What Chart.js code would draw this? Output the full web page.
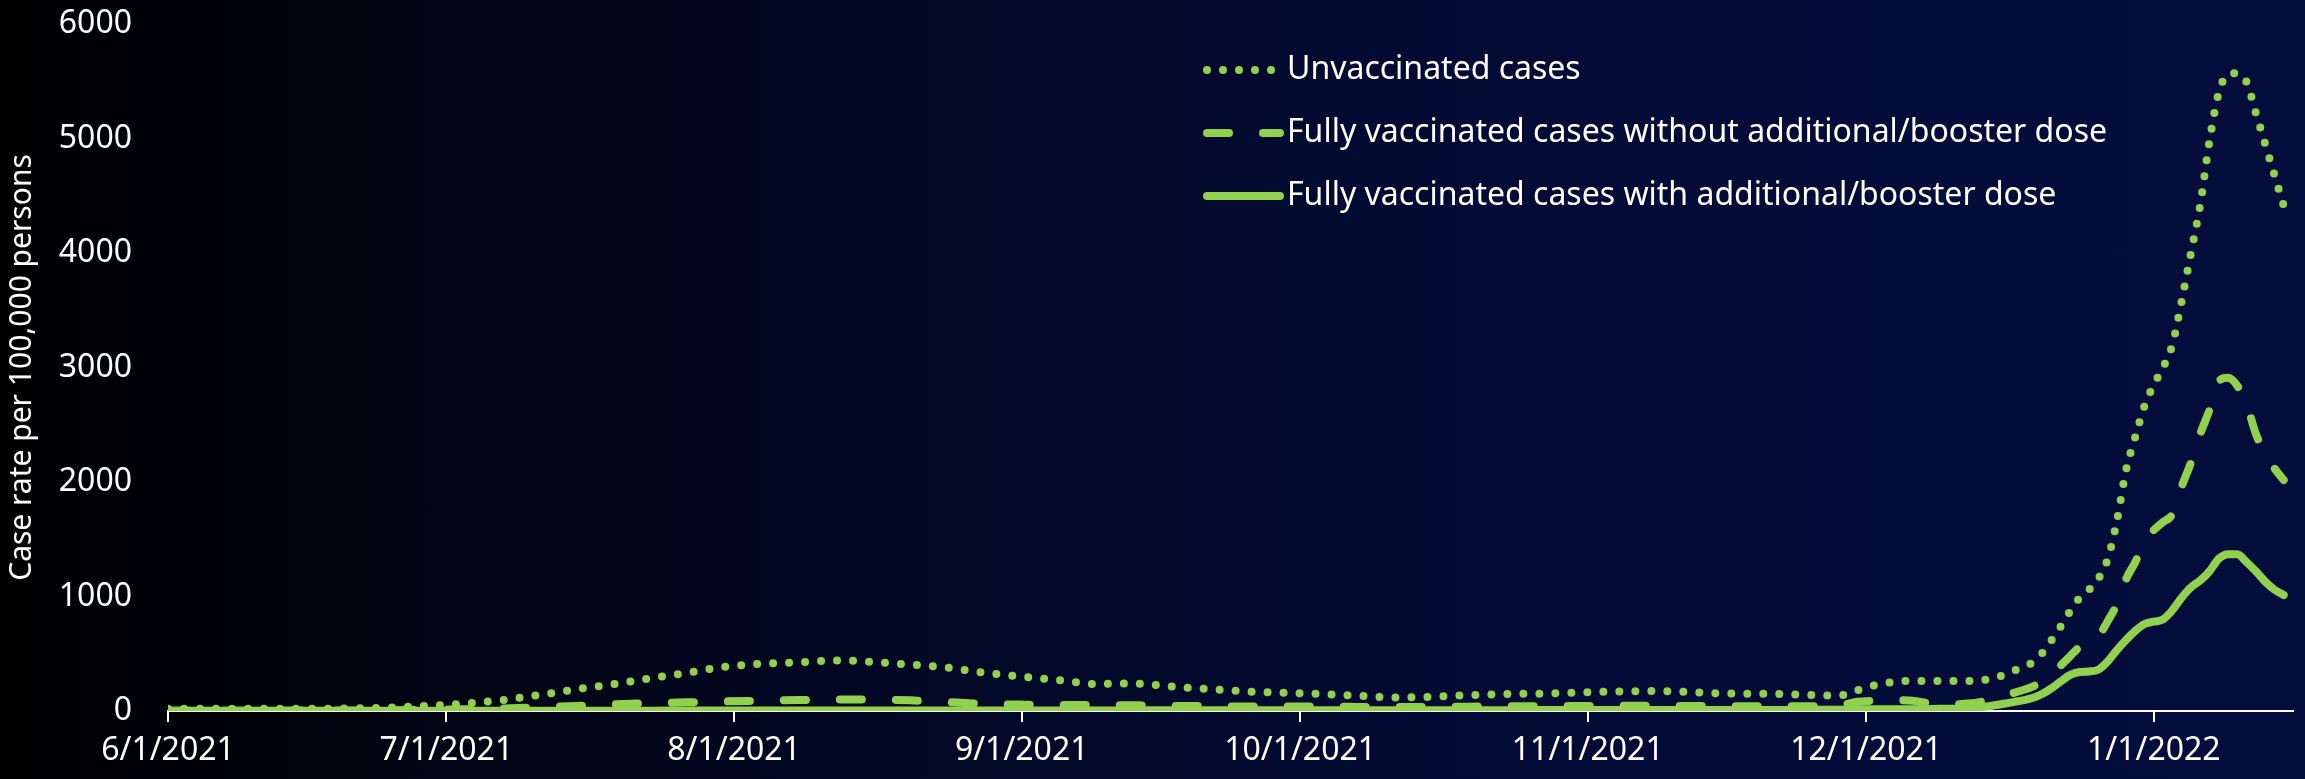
<!DOCTYPE html>
<html>
<head>
<meta charset="utf-8">
<title>Case rates by vaccination status</title>
<script src="https://cdn.jsdelivr.net/npm/chart.js@4/dist/chart.umd.min.js"></script>
<style>
  html, body { margin: 0; padding: 0; }
  body {
    width: 2305px; height: 779px; overflow: hidden;
    background: linear-gradient(to right, #000000 0%, #020822 35%, #040b35 65%, #050d3d 100%);
  }
  #wrap { position: relative; width: 2305px; height: 779px; }
</style>
</head>
<body>
<div id="wrap"><canvas id="caseChart"></canvas></div>
<script>
// x values: days since 6/1/2021
const dayIndex = [
  0, 4, 8, 12, 16, 20, 24, 28, 32, 36, 40, 44, 48, 52, 56, 60, 64, 68, 72, 76,
  80, 84, 88, 92, 96, 100, 104, 108, 112, 116, 120, 124, 128, 132, 136, 140, 144, 148, 152, 156,
  160, 164, 168, 172, 176, 180, 182, 184, 186, 188, 190, 192, 194, 196,
  198, 199, 200, 201, 202, 203, 204, 205, 206, 207, 208, 209, 210, 211, 212, 213,
  214, 215, 216, 217, 218, 219, 220, 221, 222, 223, 224, 225, 226, 227, 228
];

// Case rate per 100,000 persons
const unvaccinated = [
  20, 20, 20, 20, 20, 22, 30, 45, 65, 95, 140, 190, 235, 285, 335, 385, 412, 425, 442, 428,
  405, 378, 335, 300, 270, 236, 240, 215, 192, 172, 160, 150, 134, 118, 124, 138, 148, 152, 162, 170,
  175, 165, 152, 151, 142, 134, 180, 225, 255, 262, 262, 262, 262, 275,
  320, 355, 390, 428, 507, 620, 742, 873, 987, 1057, 1153, 1320, 1650, 2100, 2393, 2664,
  2850, 3000, 3200, 3580, 4000, 4420, 4978, 5400, 5560, 5570, 5493, 5223, 4952, 4681, 4410
];

const vaxNoBooster = [
  3, 3, 3, 3, 4, 5, 7, 10, 15, 22, 33, 44, 58, 68, 76, 84, 90, 96, 100, 100,
  93, 78, 62, 56, 52, 52, 50, 45, 42, 40, 40, 38, 36, 35, 36, 38, 40, 42, 44, 46,
  46, 44, 42, 42, 42, 48, 80, 90, 95, 90, 65, 58, 65, 90,
  140, 160, 185, 215, 260, 330, 400, 480, 560, 610, 650, 780, 930, 1150, 1300, 1480,
  1580, 1650, 1720, 1960, 2170, 2420, 2630, 2880, 2910, 2840, 2680, 2420, 2250, 2120, 2017
];

const vaxWithBooster = [
  3, 3, 3, 3, 3, 3, 3, 3, 3, 3, 3, 3, 3, 3, 4, 4, 4, 4, 4, 4,
  5, 5, 5, 5, 5, 5, 5, 6, 6, 6, 6, 6, 6, 7, 7, 7, 7, 8, 8, 8,
  8, 8, 9, 9, 10, 10, 15, 15, 15, 15, 18, 20, 25, 40,
  65, 80, 95, 115, 150, 200, 260, 315, 340, 345, 360, 430, 530, 620, 700, 760,
  780, 800, 880, 990, 1080, 1140, 1220, 1330, 1370, 1370, 1300, 1220, 1130, 1060, 1013
];

const seriesNames = [
  'Unvaccinated cases',
  'Fully vaccinated cases without additional/booster dose',
  'Fully vaccinated cases with additional/booster dose'
];

const monthTicks = [0, 30, 61, 92, 122, 153, 183, 214];
const monthLabels = ['6/1/2021', '7/1/2021', '8/1/2021', '9/1/2021', '10/1/2021', '11/1/2021', '12/1/2021', '1/1/2022'];

const GREEN = '#92d050';
const FONT = "'Noto Sans', 'Open Sans', sans-serif";

function toPoints(values) {
  return values.map((v, i) => ({ x: dayIndex[i], y: v }));
}

// legend drawn as three stacked rows in the upper right of the plot
const legendRows = {
  id: 'legendRows',
  afterDatasetsDraw(chart) {
    const ctx = chart.ctx;
    ctx.save();
    chart.data.datasets.forEach((ds, i) => {
      const y = 70 + i * 63;
      ctx.strokeStyle = ds.borderColor;
      ctx.lineWidth = ds.borderWidth;
      ctx.lineCap = 'round';
      ctx.setLineDash(ds.borderDash || []);
      ctx.beginPath();
      ctx.moveTo(1207, y);
      ctx.lineTo(1280, y);
      ctx.stroke();
      ctx.setLineDash([]);
      ctx.fillStyle = '#ffffff';
      ctx.font = '32px ' + FONT;
      ctx.textBaseline = 'middle';
      ctx.fillText(ds.label, 1287, y);
    });
    ctx.restore();
  }
};

const ctx = document.getElementById('caseChart').getContext('2d');

new Chart(ctx, {
  type: 'line',
  data: {
    datasets: [
      {
        label: seriesNames[0],
        data: toPoints(unvaccinated),
        borderColor: GREEN,
        borderWidth: 8,
        borderDash: [0, 16],
        borderCapStyle: 'round'
      },
      {
        label: seriesNames[1],
        data: toPoints(vaxNoBooster),
        borderColor: GREEN,
        borderWidth: 8,
        borderDash: [22, 34],
        borderCapStyle: 'round'
      },
      {
        label: seriesNames[2],
        data: toPoints(vaxWithBooster),
        borderColor: GREEN,
        borderWidth: 8,
        borderCapStyle: 'round'
      }
    ]
  },
  options: {
    responsive: true,
    maintainAspectRatio: false,
    animation: false,
    layout: { padding: { top: 24, right: 12, left: 0, bottom: 0 } },
    elements: {
      point: { radius: 0 },
      line: { cubicInterpolationMode: 'monotone', borderJoinStyle: 'round', fill: false }
    },
    plugins: {
      legend: { display: false },
      tooltip: { enabled: false }
    },
    scales: {
      x: {
        type: 'linear',
        min: 0,
        max: 229,
        afterBuildTicks: axis => { axis.ticks = monthTicks.map(v => ({ value: v })); },
        afterFit: axis => { axis.height = 68; axis.paddingLeft = 0; axis.paddingRight = 0; },
        ticks: {
          autoSkip: false,
          maxRotation: 0,
          padding: 10,
          color: '#ffffff',
          font: { family: FONT, size: 32 },
          callback: (value, index) => monthLabels[index]
        },
        grid: { drawOnChartArea: false, drawTicks: true, tickLength: 11, color: '#ffffff', lineWidth: 2 },
        border: { display: true, color: '#ffffff', width: 2 }
      },
      y: {
        min: 0,
        max: 6000,
        afterFit: axis => { axis.width = 168; axis.paddingTop = 0; axis.paddingBottom = 0; },
        ticks: {
          stepSize: 1000,
          padding: 36,
          color: '#ffffff',
          font: { family: FONT, size: 32 },
          callback: value => String(value)
        },
        grid: { display: false, drawTicks: false },
        border: { display: false },
        title: {
          display: true,
          text: 'Case rate per 100,000 persons',
          color: '#ffffff',
          font: { family: FONT, size: 30 },
          padding: { top: 4, bottom: 0 }
        }
      }
    }
  },
  plugins: [legendRows]
});
</script>
</body>
</html>
